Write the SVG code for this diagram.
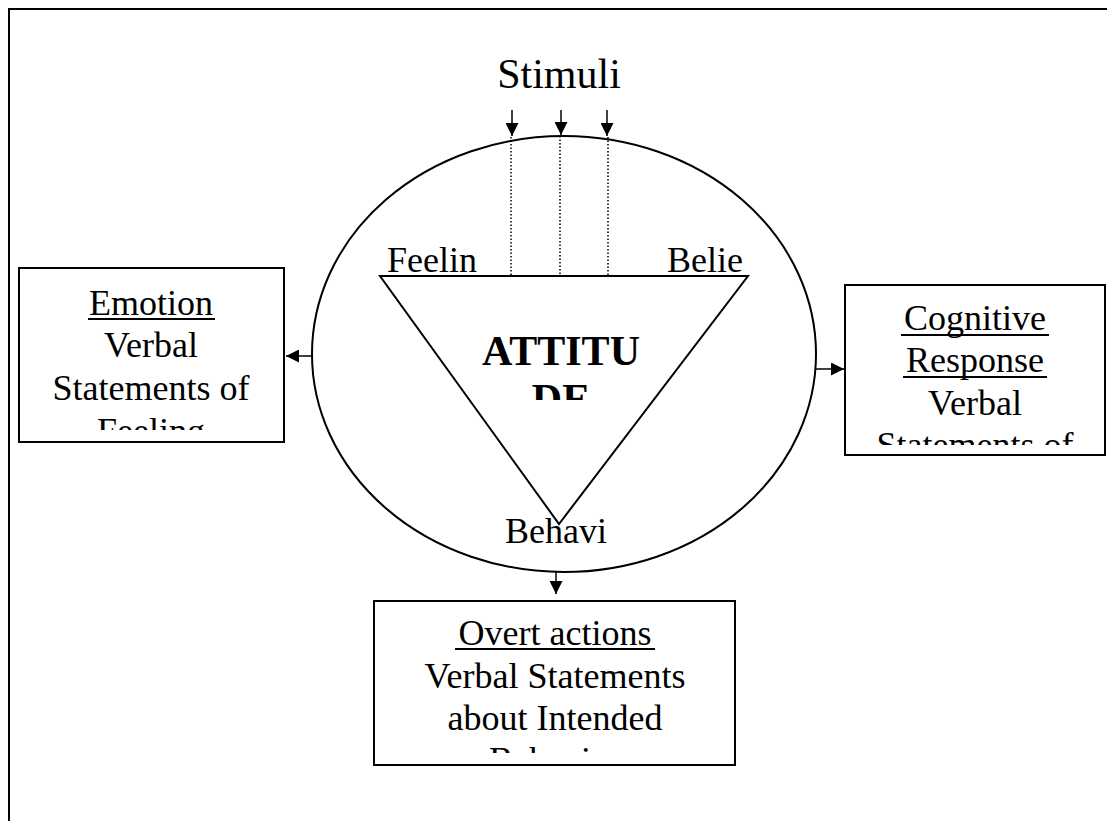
<svg xmlns="http://www.w3.org/2000/svg" width="1107" height="821" viewBox="0 0 1107 821">
  <style>
    .t { font-family: "Liberation Serif", "Times New Roman", serif; font-size: 36px; fill: #000; text-anchor: middle; }
    .big { font-size: 42px; }
    .bold { font-weight: bold; }
    .shape { fill: none; stroke: #000; stroke-width: 2; }
    .box { fill: #fff; stroke: #000; stroke-width: 2; }
    .wire { fill: none; stroke: #000; stroke-width: 1.5; }
    .dot { fill: none; stroke: #000; stroke-width: 1.5; stroke-dasharray: 1.5 2; }
    .ul { stroke: #000; stroke-width: 2; }
  </style>
  <defs>
    <marker id="head" viewBox="0 0 10 10" refX="10" refY="5" markerWidth="13" markerHeight="13" markerUnits="userSpaceOnUse" orient="auto">
      <path d="M0,0 L10,5 L0,10 Z" fill="#000"/>
    </marker>
    <clipPath id="clipCore"><rect x="440" y="300" width="240" height="100"/></clipPath>
    <clipPath id="clipLeft"><rect x="20" y="269" width="263" height="161"/></clipPath>
    <clipPath id="clipRight"><rect x="846" y="286" width="258" height="159"/></clipPath>
    <clipPath id="clipBottom"><rect x="375" y="602" width="359" height="151"/></clipPath>
  </defs>

  <!-- page frame -->
  <path d="M9,822 V9 H1108" class="shape"/>

  <!-- attitude ellipse with the component triangle -->
  <g id="attitude">
    <ellipse cx="564" cy="354" rx="252" ry="218" class="shape"/>
    <polygon points="380,276 748,276 559,524" class="shape"/>
    <g clip-path="url(#clipCore)">
      <text x="561" y="365" class="t big bold">ATTITU</text>
      <text x="561" y="413" class="t big bold">DE</text>
    </g>
    <text x="387" y="272" class="t" style="text-anchor:start">Feelin</text>
    <text x="743" y="272" class="t" style="text-anchor:end">Belie</text>
    <text x="556" y="543" class="t">Behavi</text>
  </g>

  <!-- stimuli label -->
  <g id="stimuli">
    <text x="559" y="88" class="t big">Stimuli</text>
  </g>

  <!-- affective outcome -->
  <g id="emotion">
    <rect x="19" y="268" width="265" height="174" class="box"/>
    <g clip-path="url(#clipLeft)">
      <text x="151" y="315" class="t">Emotion</text>
      <line x1="88" y1="319" x2="215" y2="319" class="ul"/>
      <text x="151" y="357" class="t">Verbal</text>
      <text x="151" y="400" class="t">Statements of</text>
      <text x="151" y="443" class="t">Feeling</text>
    </g>
  </g>

  <!-- cognitive outcome -->
  <g id="cognitive">
    <rect x="845" y="285" width="260" height="170" class="box"/>
    <g clip-path="url(#clipRight)">
      <text x="975" y="330" class="t">Cognitive</text>
      <line x1="901" y1="335" x2="1049" y2="335" class="ul"/>
      <text x="975" y="372" class="t">Response</text>
      <line x1="903" y1="377" x2="1047" y2="377" class="ul"/>
      <text x="975" y="415" class="t">Verbal</text>
      <text x="975" y="457" class="t">Statements of</text>
    </g>
  </g>

  <!-- behavioural outcome -->
  <g id="overt">
    <rect x="374" y="601" width="361" height="164" class="box"/>
    <g clip-path="url(#clipBottom)">
      <text x="555" y="645" class="t">Overt actions</text>
      <line x1="455" y1="649" x2="655" y2="649" class="ul"/>
      <text x="555" y="688" class="t">Verbal Statements</text>
      <text x="555" y="730" class="t">about Intended</text>
      <text x="555" y="772" class="t">Behavior</text>
    </g>
  </g>

  <!-- connectors -->
  <g id="connectors">
    <line x1="512" y1="110" x2="512" y2="136" class="wire" marker-end="url(#head)"/>
    <line x1="561" y1="110" x2="561" y2="135" class="wire" marker-end="url(#head)"/>
    <line x1="607" y1="110" x2="607" y2="136" class="wire" marker-end="url(#head)"/>
    <line x1="511" y1="137" x2="511" y2="276" class="dot"/>
    <line x1="560" y1="136" x2="560" y2="276" class="dot"/>
    <line x1="608" y1="137" x2="608" y2="276" class="dot"/>
    <line x1="312" y1="356" x2="286" y2="356" class="wire" marker-end="url(#head)"/>
    <line x1="816" y1="369" x2="844" y2="369" class="wire" marker-end="url(#head)"/>
    <line x1="556" y1="572" x2="556" y2="594" class="wire" marker-end="url(#head)"/>
  </g>
</svg>
